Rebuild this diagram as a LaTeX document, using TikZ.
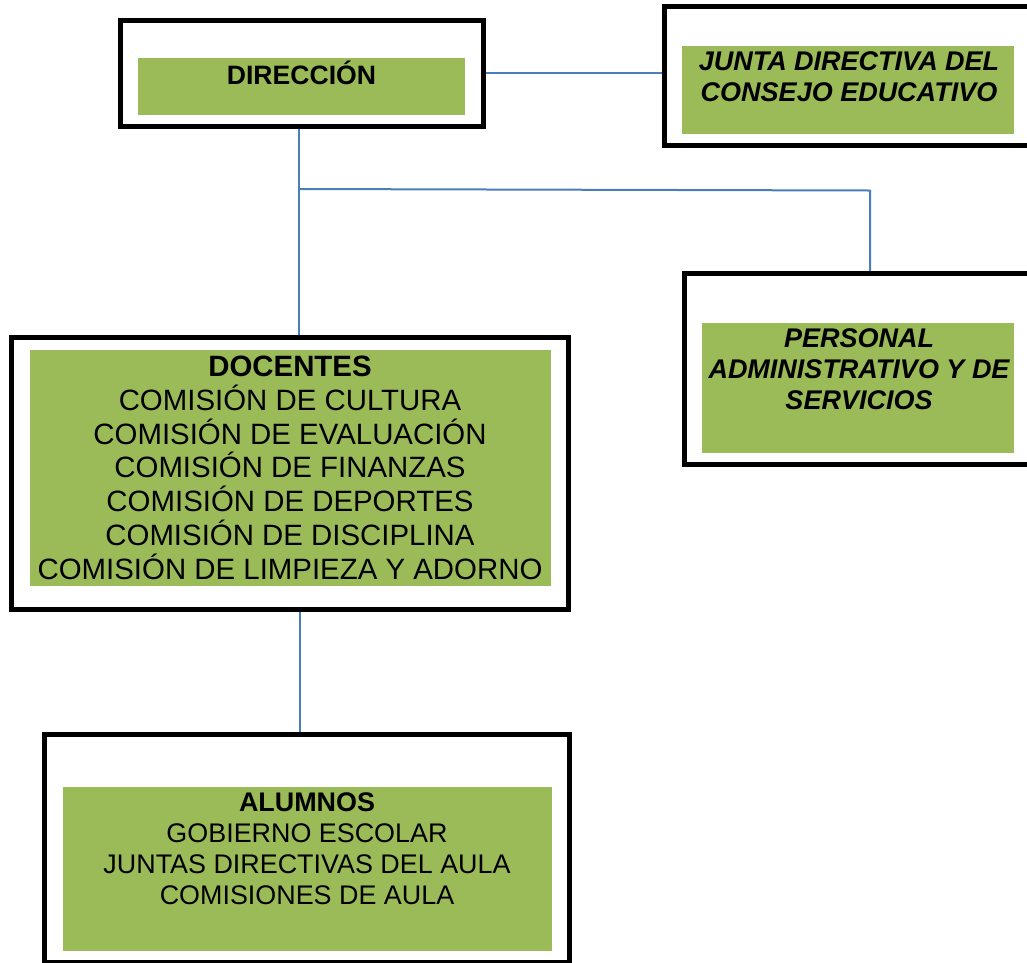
\documentclass[tikz,border=0pt]{standalone}
\usepackage{fontspec}
\setmainfont{Liberation Sans}
\definecolor{boxgreen}{HTML}{9BBB59}
\definecolor{linkblue}{HTML}{4A7EBB}
\tikzset{
  outerbox/.style={draw=black, line width=5pt, fill=white, rectangle, inner sep=0pt, outer sep=0pt},
  greenfill/.style={fill=boxgreen},
  link/.style={draw=linkblue, line width=2pt},
  boxtext/.style={align=center, anchor=base, inner sep=0pt, text=black},
  big/.style={font=\fontsize{29.4}{33.8}\selectfont},
  mid/.style={font=\fontsize{26.9}{31}\selectfont},
  ital/.style={font=\fontsize{27}{31}\selectfont\bfseries\itshape}
}
\begin{document}
\begin{tikzpicture}[x=1pt,y=-1pt]
\useasboundingbox (0,0) rectangle (1027,962);
\clip (0,0) rectangle (1027,962);
% outer boxes
\node[outerbox, minimum width=362.5pt, minimum height=106.7pt] (dir) at (301.75,73.35) {};
\node[outerbox, minimum width=368pt, minimum height=139pt] (junta) at (848,76) {};
\node[outerbox, minimum width=347.8pt, minimum height=191.6pt] (pers) at (858.1,369) {};
\node[outerbox, minimum width=556.5pt, minimum height=271.5pt] (doc) at (290.05,473.25) {};
\node[outerbox, minimum width=524.7pt, minimum height=228.3pt] (alu) at (307.15,848.35) {};
% connectors
\coordinate (j1) at (298.5,189);
\coordinate (j2) at (870,190.5);
\coordinate (j3) at (299.5,700);
\draw[link] (dir.east) -- (junta.west |- dir.east);
\draw[link] (dir.south -| j1) -- (j1) -- (doc.north -| j1);
\draw[link] (j1) -- (j2) -- (j2 |- pers.north);
\draw[link] (doc.south -| j3) -- (alu.north -| j3);
% redraw borders over connector ends
\draw[line width=5pt] (dir.south west) rectangle (dir.north east);
\draw[line width=5pt] (junta.south west) rectangle (junta.north east);
\draw[line width=5pt] (pers.south west) rectangle (pers.north east);
\draw[line width=5pt] (doc.south west) rectangle (doc.north east);
\draw[line width=5pt] (alu.south west) rectangle (alu.north east);
% green panels
\fill[greenfill] (138,58.3) rectangle (465,115);
\fill[greenfill] (682,46) rectangle (1014,134);
\fill[greenfill] (702,323) rectangle (1014,452.7);
\fill[greenfill] (30,350) rectangle (551,586);
\fill[greenfill] (62.7,786.7) rectangle (552,950.7);
% texts (anchor base = baseline of the last line)
\node[boxtext, font=\fontsize{26.6}{31}\selectfont\bfseries] (tdir) at (301.5,84) {DIRECCIÓN};
\node[boxtext, ital] (tjunta) at (849,101) {JUNTA DIRECTIVA DEL\\CONSEJO EDUCATIVO};
\node[boxtext, ital] (tpers) at (859,409.3) {PERSONAL\\ADMINISTRATIVO Y DE\\SERVICIOS};
\node[boxtext, big] (tdoc) at (290,579.3) {\textbf{DOCENTES}\\COMISIÓN DE CULTURA\\COMISIÓN DE EVALUACIÓN\\COMISIÓN DE FINANZAS\\COMISIÓN DE DEPORTES\\COMISIÓN DE DISCIPLINA\\COMISIÓN DE LIMPIEZA Y ADORNO};
\node[boxtext, mid] (talu) at (307,904) {\textbf{ALUMNOS}\\GOBIERNO ESCOLAR\\JUNTAS DIRECTIVAS DEL AULA\\COMISIONES DE AULA};
\end{tikzpicture}
\end{document}
